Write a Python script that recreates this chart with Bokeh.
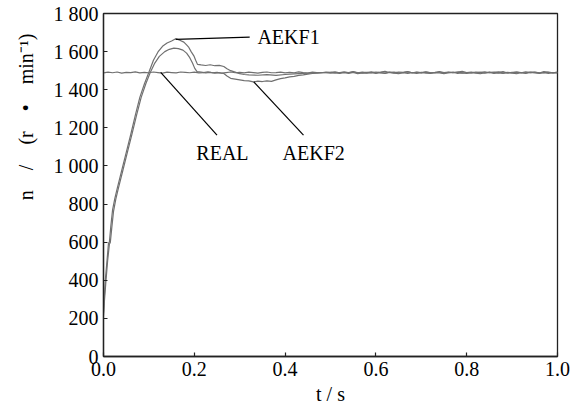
from bokeh.plotting import figure
from bokeh.models import FixedTicker, PrintfTickFormatter, Label, Range1d, Title
from bokeh.embed import file_html
from bokeh.resources import INLINE

# ---------------- data ----------------
x_ticks = [0.0, 0.2, 0.4, 0.6, 0.8, 1.0]
y_ticks = [0, 200, 400, 600, 800, 1000, 1200, 1400, 1600, 1800]
y_tick_labels = ["0", "200", "400", "600", "800", "1 000", "1 200", "1 400", "1 600", "1 800"]

steady_t = [round(0.50 + 0.01 * i, 2) for i in range(51)]

real_t = [round(0.01 * i, 2) for i in range(101)]
real_n = [1488, 1492, 1489, 1493, 1487, 1491, 1490, 1494, 1488, 1491,
          1489, 1493, 1490, 1487, 1492, 1490, 1488, 1493, 1491, 1489,
          1492, 1488, 1490, 1494, 1489, 1491, 1487, 1490, 1493, 1489,
          1491, 1488, 1492, 1490, 1487, 1491, 1493, 1489, 1490, 1492,
          1488, 1491, 1489, 1494, 1490, 1487, 1492, 1490, 1489, 1493,
          1491, 1488, 1490, 1492, 1489, 1494, 1490, 1488, 1491, 1489,
          1493, 1490, 1487, 1491, 1492, 1488, 1490, 1494, 1489, 1491,
          1488, 1492, 1490, 1489, 1493, 1487, 1491, 1490, 1492, 1488,
          1490, 1493, 1489, 1491, 1487, 1492, 1490, 1494, 1488, 1491,
          1489, 1492, 1490, 1488, 1493, 1491, 1489, 1490, 1492, 1488, 1491]

aekf1_t = [0.0, 0.002, 0.004, 0.008, 0.011, 0.013, 0.016, 0.02, 0.025, 0.03,
           0.04, 0.05, 0.06, 0.07, 0.08, 0.09, 0.10, 0.11, 0.12, 0.13,
           0.14, 0.15, 0.159, 0.168, 0.177, 0.183, 0.188, 0.193, 0.199, 0.203,
           0.207, 0.215, 0.225, 0.235, 0.245, 0.255, 0.265, 0.272, 0.28, 0.29,
           0.30, 0.31, 0.32, 0.34, 0.36, 0.38, 0.40, 0.42, 0.44, 0.46, 0.48] + steady_t
aekf1_n = [230, 320, 400, 510, 595, 600, 680, 770, 830, 880,
           975, 1070, 1165, 1265, 1360, 1430, 1492, 1555, 1598, 1628,
           1645, 1656, 1668, 1660, 1650, 1635, 1622, 1600, 1578, 1555,
           1533, 1530, 1527, 1531, 1526, 1528, 1522, 1510, 1500, 1492,
           1484, 1480, 1478, 1476, 1479, 1475, 1480, 1483, 1486, 1488, 1490] + [
           1491, 1494, 1489, 1493, 1490, 1495, 1488, 1492, 1490, 1494,
           1489, 1492, 1496, 1490, 1488, 1493, 1491, 1495, 1489, 1492,
           1490, 1494, 1488, 1491, 1495, 1490, 1493, 1489, 1492, 1496,
           1490, 1488, 1493, 1491, 1494, 1489, 1492, 1490, 1495, 1488,
           1491, 1493, 1489, 1494, 1490, 1492, 1488, 1495, 1491, 1489, 1492]

aekf2_t = [0.0, 0.002, 0.005, 0.009, 0.013, 0.015, 0.018, 0.022, 0.027, 0.033,
           0.043, 0.053, 0.063, 0.073, 0.083, 0.093, 0.103, 0.113, 0.123, 0.135,
           0.145, 0.155, 0.165, 0.175, 0.183, 0.19, 0.196, 0.201, 0.206, 0.215,
           0.225, 0.235, 0.245, 0.255, 0.265, 0.272, 0.28, 0.29, 0.30, 0.31,
           0.32, 0.33, 0.34, 0.35, 0.36, 0.37, 0.38, 0.39, 0.40, 0.41,
           0.42, 0.43, 0.44, 0.45, 0.46, 0.47, 0.48, 0.49] + steady_t
aekf2_n = [215, 290, 385, 500, 590, 598, 670, 760, 825, 885,
           980, 1075, 1170, 1268, 1360, 1430, 1490, 1540, 1575, 1600,
           1612, 1618, 1616, 1608, 1592, 1568, 1540, 1512, 1495, 1492,
           1488, 1491, 1487, 1489, 1485, 1472, 1460, 1456, 1452, 1448,
           1446, 1441, 1445, 1443, 1446, 1444, 1452, 1458, 1462, 1467,
           1470, 1475, 1478, 1482, 1485, 1487, 1489, 1490] + [
           1487, 1490, 1485, 1489, 1486, 1491, 1484, 1488, 1487, 1490,
           1485, 1489, 1486, 1492, 1487, 1484, 1490, 1486, 1489, 1485,
           1491, 1487, 1485, 1490, 1488, 1484, 1489, 1492, 1486, 1488,
           1485, 1490, 1487, 1484, 1489, 1491, 1486, 1488, 1485, 1490,
           1487, 1484, 1489, 1486, 1491, 1488, 1485, 1490, 1486, 1489, 1487]

# annotation labels: (text, text anchor, alignment, leader start, leader end)
annotations = [
    ("AEKF1", (0.339, 1676), "left", (0.159, 1664), (0.322, 1676)),
    ("REAL", (0.262, 1066), "center", (0.126, 1491), (0.250, 1162)),
    ("AEKF2", (0.463, 1066), "center", (0.331, 1441), (0.4405, 1162)),
]

# ---------------- styling ----------------
FONT = "Liberation Serif"
LINE_COLOR = "#707070"
AX_COLOR = "#222222"

p = figure(width=574, height=407, output_backend="svg", toolbar_location=None,
           x_range=Range1d(0, 1), y_range=Range1d(0, 1800),
           min_border_left=103, min_border_right=17, min_border_top=13, min_border_bottom=50)
p.background_fill_color = "white"
p.border_fill_color = "white"
p.outline_line_color = AX_COLOR
p.outline_line_width = 1.3
p.grid.visible = False

for ax in (p.xaxis[0], p.yaxis[0]):
    ax.major_tick_in = 4
    ax.major_tick_out = 0
    ax.minor_tick_line_color = None
    ax.axis_line_color = AX_COLOR
    ax.axis_line_width = 1.3
    ax.major_tick_line_color = AX_COLOR
    ax.major_tick_line_width = 1.2
    ax.major_label_text_font = FONT
    ax.major_label_text_font_size = "20px"
    ax.major_label_text_color = "black"
    ax.major_label_standoff = 5

p.xaxis.ticker = FixedTicker(ticks=x_ticks)
p.xaxis.formatter = PrintfTickFormatter(format="%.1f")
p.yaxis.ticker = FixedTicker(ticks=y_ticks)
p.yaxis.major_label_overrides = {t: l for t, l in zip(y_ticks, y_tick_labels)}

p.xaxis.axis_label = "t / s"
p.xaxis.axis_label_text_font = FONT
p.xaxis.axis_label_text_font_size = "20px"
p.xaxis.axis_label_text_font_style = "normal"
p.xaxis.axis_label_text_color = "black"
p.xaxis.axis_label_standoff = 4

ytitle = Title(text="n\u2003/\u2003(r\u2003\u2022\u2003min\u207b\u00b9)", align="right", offset=20,
               vertical_align="middle",
               text_font=FONT, text_font_size="20px", text_font_style="normal",
               text_color="black", standoff=26)
p.add_layout(ytitle, "left")

p.line(real_t, real_n, line_color=LINE_COLOR, line_width=1.2)
p.line(aekf2_t, aekf2_n, line_color=LINE_COLOR, line_width=1.2)
p.line(aekf1_t, aekf1_n, line_color=LINE_COLOR, line_width=1.2)

for text, (tx, ty), align, (x0, y0), (x1, y1) in annotations:
    p.segment(x0=[x0], y0=[y0], x1=[x1], y1=[y1], line_color="black", line_width=1.2)
    p.add_layout(Label(x=tx, y=ty, text=text, text_font=FONT, text_font_size="20px",
                       text_align=align, text_baseline="middle", text_color="black"))

open("out.html", "w").write(file_html(p, INLINE))
